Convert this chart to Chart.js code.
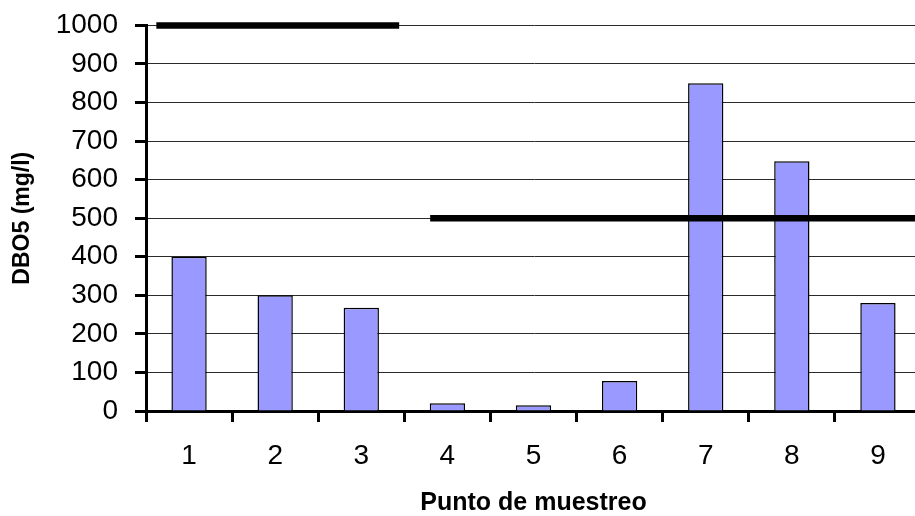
<!DOCTYPE html>
<html>
<head>
<meta charset="utf-8">
<script src="https://cdn.jsdelivr.net/npm/chart.js@4/dist/chart.umd.min.js"></script>
<style>
  html, body { margin: 0; padding: 0; background: #ffffff; overflow: hidden; }
  #wrap { width: 921px; height: 516px; position: relative; }
</style>
</head>
<body>
<div id="wrap"><canvas id="c"></canvas></div>
<script>
// Sampling points and measured BOD5 (mg/l)
const puntos = ['1', '2', '3', '4', '5', '6', '7', '8', '9'];
const dbo5 = [400, 300, 268, 20, 15, 78, 850, 648, 280];

// Reference limit segments, x given in sampling-point index units (0 = point 1)
const limite1000 = [{ x: -0.38, y: 1000 }, { x: 2.44, y: 1000 }];
const limite500 = [{ x: 2.8, y: 500 }, { x: 8.5, y: 500 }];

const yTicks = [0, 100, 200, 300, 400, 500, 600, 700, 800, 900, 1000];

const FONT = '"Liberation Sans", Arial, Helvetica, sans-serif';

new Chart(document.getElementById('c'), {
  type: 'bar',
  data: {
    labels: puntos,
    datasets: [
      {
        type: 'line',
        label: 'Límite 1000',
        data: limite1000,
        xAxisID: 'x2',
        borderColor: '#000000',
        borderWidth: 6.5,
        borderCapStyle: 'butt',
        pointRadius: 0,
        fill: false,
        clip: false,
        order: 0
      },
      {
        type: 'line',
        label: 'Límite 500',
        data: limite500,
        xAxisID: 'x2',
        borderColor: '#000000',
        borderWidth: 6.5,
        borderCapStyle: 'butt',
        pointRadius: 0,
        fill: false,
        clip: false,
        order: 0
      },
      {
        type: 'bar',
        label: 'DBO5',
        data: dbo5,
        xAxisID: 'x',
        backgroundColor: '#9999FF',
        borderColor: '#000000',
        borderWidth: 1.5,
        grouped: false,
        categoryPercentage: 1,
        barPercentage: 0.41,
        order: 1
      }
    ]
  },
  options: {
    responsive: true,
    maintainAspectRatio: false,
    animation: false,
    layout: { padding: { top: 24, right: 0, bottom: 0, left: 0 } },
    plugins: {
      legend: { display: false },
      tooltip: { enabled: false }
    },
    scales: {
      x: {
        type: 'category',
        offset: true,
        grid: {
          offset: true,
          drawOnChartArea: false,
          drawTicks: true,
          tickLength: 11,
          tickWidth: 3,
          tickColor: '#000000'
        },
        border: { display: true, color: '#000000', width: 3 },
        ticks: {
          color: '#000000',
          font: { family: FONT, size: 28 },
          padding: 17,
          maxRotation: 0
        },
        title: {
          display: true,
          text: 'Punto de muestreo',
          color: '#000000',
          font: { family: FONT, size: 25, weight: 'bold', lineHeight: 1 },
          padding: { top: 0, bottom: 0 }
        },
        afterFit: (scale) => { scale.height = 105; }
      },
      x2: {
        type: 'linear',
        display: false,
        offset: false,
        grace: 0,
        min: -0.5,
        max: 8.5,
        position: 'bottom'
      },
      y: {
        min: 0,
        max: 1000,
        afterBuildTicks: (scale) => { scale.ticks = yTicks.map(v => ({ value: v })); },
        grid: {
          color: '#2a2a2a',
          lineWidth: 1,
          drawTicks: true,
          tickLength: 11,
          tickWidth: 3,
          tickColor: '#000000'
        },
        border: { display: true, color: '#000000', width: 3 },
        ticks: {
          color: '#000000',
          font: { family: FONT, size: 28, lineHeight: 0.6 },
          padding: 17,
          callback: (value) => String(value)
        },
        title: {
          display: true,
          text: 'DBO5 (mg/l)',
          color: '#000000',
          font: { family: FONT, size: 23, weight: 'bold', lineHeight: 1 },
          padding: { top: 11, bottom: 0 }
        },
        afterFit: (scale) => { scale.width = 146; }
      }
    }
  }
});
</script>
</body>
</html>
